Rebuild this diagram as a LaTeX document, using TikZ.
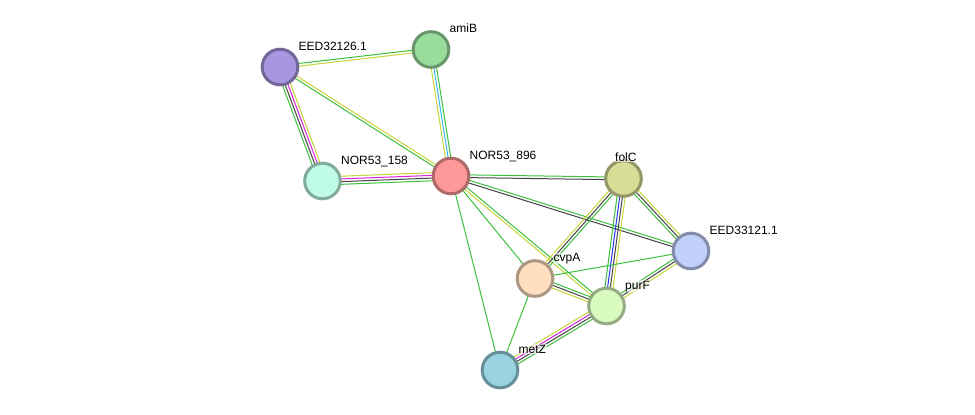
\documentclass[tikz,border=0pt]{standalone}
\usepackage{fontspec}
\setmainfont{Liberation Sans}
\usetikzlibrary{calc,backgrounds}
\definecolor{eg}{HTML}{3DC03D}
\definecolor{ey}{HTML}{C8D438}
\definecolor{ek}{HTML}{444444}
\definecolor{em}{HTML}{DD22DD}
\definecolor{eb}{HTML}{2233EE}
\definecolor{ec}{HTML}{33BBEE}
\tikzset{
  prot/.style={circle, minimum size=35.6pt, inner sep=0pt, line width=3pt, draw=#1!68!black, fill=#1},
  plabel/.style={anchor=base west, font=\fontsize{12}{14}\selectfont, fill=white, fill opacity=0.6, text opacity=1, inner sep=0.5pt},
  eline/.style={line width=1pt}
}
\newcommand\medge[3]{%
  \gdef\mcount{0}%
  \foreach \c in {#3}{\xdef\mcount{\the\numexpr\mcount+1\relax}}%
  \foreach \c [count=\i] in {#3}{%
    \pgfmathsetmacro\off{(\i-(\mcount+1)/2)*2.7}%
    \draw[eline, \c] ($(#1)!\off pt!90:(#2)$) -- ($(#2)!\off pt!-90:(#1)$);
  }%
}
\definecolor{cA}{HTML}{A897E0}
\definecolor{cB}{HTML}{99DD9C}
\definecolor{cC}{HTML}{C0FBE6}
\definecolor{cD}{HTML}{FF9999}
\definecolor{cE}{HTML}{D8DD96}
\definecolor{cF}{HTML}{C0D0FA}
\definecolor{cG}{HTML}{FFDFC0}
\definecolor{cH}{HTML}{D9FBC0}
\definecolor{cI}{HTML}{98D3DF}
\begin{document}
\begin{tikzpicture}[x=1pt,y=-1pt]
\useasboundingbox (0,0) rectangle (975,415);
\node[prot=cA] (n32126) at (280,67) {};
\node[prot=cB] (amiB) at (431,49.5) {};
\node[prot=cC] (n158) at (322.5,181) {};
\node[prot=cD] (n896) at (451,176) {};
\node[prot=cE] (folC) at (623.5,178.5) {};
\node[prot=cF] (n33121) at (691,251) {};
\node[prot=cG] (cvpA) at (535,278.5) {};
\node[prot=cH] (purF) at (606.5,306) {};
\node[prot=cI] (metZ) at (500,370) {};
\begin{scope}[on background layer]
\fill[white] (0,0) rectangle (975,415);
\medge{n32126}{amiB}{ey,eg}
\medge{n32126}{n158}{eg,ek,em,ey}
\medge{n32126}{n896}{eg,ey}
\medge{amiB}{n896}{ey,ec,eg}
\medge{n158}{n896}{eg,ek,em,ey}
\medge{n896}{folC}{ek,eg}
\medge{n896}{n33121}{ek,eg}
\medge{n896}{cvpA}{eg}
\medge{n896}{purF}{ey,eg}
\medge{n896}{metZ}{eg}
\medge{folC}{cvpA}{ey,ek,eg}
\medge{folC}{purF}{eg,eb,ek,ey}
\medge{folC}{n33121}{eg,ek,ey}
\medge{cvpA}{n33121}{eg}
\medge{cvpA}{purF}{ey,ek,eg}
\medge{purF}{n33121}{ey,ek,eg}
\medge{purF}{metZ}{ey,em,ek,eg}
\medge{cvpA}{metZ}{eg}
\end{scope}
\node[plabel] (l32126) at ($(n32126)+(18,-17)$) {EED32126.1};
\node[plabel] (lamiB) at ($(amiB)+(18,-17)$) {amiB};
\node[plabel] (l158) at ($(n158)+(18,-17)$) {NOR53\_158};
\node[plabel] (l896) at ($(n896)+(18,-17)$) {NOR53\_896};
\node[plabel] (lfolC) at ($(folC)+(-9,-17)$) {folC};
\node[plabel] (l33121) at ($(n33121)+(18,-17)$) {EED33121.1};
\node[plabel] (lcvpA) at ($(cvpA)+(18,-17)$) {cvpA};
\node[plabel] (lpurF) at ($(purF)+(18,-17)$) {purF};
\node[plabel] (lmetZ) at ($(metZ)+(18,-17)$) {metZ};
\end{tikzpicture}
\end{document}
